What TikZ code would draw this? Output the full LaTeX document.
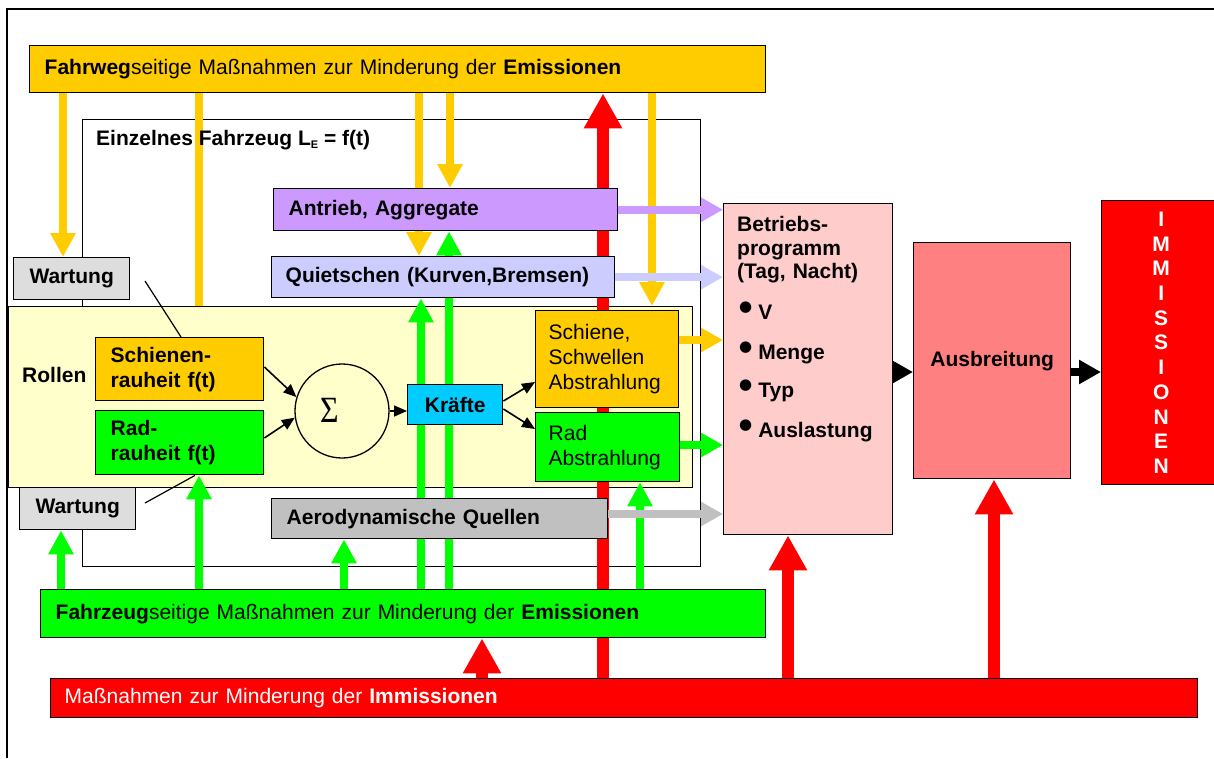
\documentclass[tikz,border=0pt]{standalone}
\usepackage{fontspec}
\setmainfont{Liberation Sans}
\newfontfamily\greekserif{Liberation Serif}
\newfontfamily\dvsans{DejaVu Sans}
\usetikzlibrary{arrows.meta}

\definecolor{gelb}{HTML}{FFCC00}
\definecolor{gruen}{HTML}{00FF00}
\definecolor{rot}{HTML}{FF0000}
\definecolor{hellgelb}{HTML}{FFFFCC}
\definecolor{lila}{HTML}{CC99FF}
\definecolor{hellblau}{HTML}{CCCCFF}
\definecolor{grau}{HTML}{C0C0C0}
\definecolor{hellgrau}{HTML}{DDDDDD}
\definecolor{tuerkis}{HTML}{00CCFF}
\definecolor{rosa}{HTML}{FFCCCC}
\definecolor{lachs}{HTML}{FF8080}

\pgfdeclarelayer{back}
\pgfdeclarelayer{flow}
\pgfsetlayers{back,flow,main}

% text sizes
\newcommand\txt{\fontsize{21}{25}\selectfont}
\newcommand\btxt{\fontsize{21}{25}\selectfont\bfseries}
% bullet used in the list of the Betriebsprogramm
\newcommand\punkt{\smash{\raisebox{8pt}{\dvsans\fontsize{15}{15}\selectfont ●}}\hspace{6pt}}

\begin{document}
\begin{tikzpicture}[x=1pt,y=-1pt,
  font=\txt,
  box/.style={draw=black, line width=1.4pt, rectangle, inner xsep=15pt, inner ysep=0pt,
              anchor=north west, align=left},
  label/.style={inner sep=0pt, anchor=base west, font=\btxt},
  item/.style={inner sep=0pt, anchor=base west, font=\btxt},
  vtip/.style={-{Triangle[length=24pt,width=24pt]}},
  htip/.style={-{Triangle[length=22pt,width=23pt]}},
  rtip/.style={-{Triangle[length=35pt,width=36pt]}},
  flowY/.style={draw=gelb, line width=8pt},
  flowG/.style={draw=gruen, line width=8pt},
  flowR/.style={draw=rot, line width=12pt, rtip},
  flowH/.style={line width=8pt, htip},
  thinarrow/.style={draw=black, line width=1.6pt, -{Triangle[length=13pt,width=11pt]}},
  thinline/.style={draw=black, line width=1.2pt}]

\useasboundingbox (0,0) rectangle (1214,758);

% page frame
\draw[line width=2pt] (7,758) -- (7,9) -- (1214,9);

% ---------- background: vehicle frame and rolling block
\begin{pgfonlayer}{back}
  \node[draw=black, line width=1.3pt, rectangle, inner sep=0pt, anchor=north west,
        minimum width=618pt, minimum height=447pt] (fzg) at (82,119) {};
  \node[box, fill=hellgelb, minimum width=684pt, minimum height=181pt] (rollen) at (8,306) {};
\end{pgfonlayer}

% ---------- boxes
\node[box, fill=gelb, minimum width=736pt, minimum height=47pt, text width=706pt] (fahrweg) at (29,45)
  {\textbf{Fahrweg}seitige Maßnahmen zur Minderung der \textbf{Emissionen}};

\node[label] (fzglabel) at (96,145.5)
  {Einzelnes Fahrzeug L\raisebox{-2.5pt}{\fontsize{11}{11}\selectfont E} = f(t)};

\node[box, fill=lila, minimum width=344pt, minimum height=42pt, text width=314pt, font=\btxt] (antrieb) at (273,188)
  {Antrieb, Aggregate};
\node[box, fill=hellblau, minimum width=343pt, minimum height=41pt, text width=315pt, inner xsep=14pt, font=\btxt] (quiet) at (271,256)
  {Quietschen (Kurven,Bremsen)};

\node[box, fill=hellgrau, minimum width=116pt, minimum height=42pt, align=center, font=\btxt] (wartungA) at (13,257) {Wartung};
\node[box, fill=hellgrau, minimum width=116pt, minimum height=42pt, align=center, font=\btxt] (wartungB) at (19,487) {Wartung};

\node[label] (rollenlabel) at (22,382.5) {Rollen};

\node[box, fill=gelb, minimum width=168pt, minimum height=63pt, text width=138pt, font=\btxt] (schienenR) at (95,337)
  {Schienen-\\rauheit f(t)};
\node[box, fill=gruen, minimum width=168pt, minimum height=64pt, text width=138pt, font=\btxt] (radR) at (95,410)
  {Rad-\\rauheit f(t)};

\node[circle, draw=black, line width=1.3pt, inner sep=0pt, minimum size=94pt] (sigma) at (342,411) {};
\node[inner sep=0pt] (sigmaglyph) at (329.5,410.5)
  {\greekserif\fontsize{37}{37}\selectfont\scalebox{0.86}[1]{Σ}};

\node[box, fill=tuerkis, minimum width=95pt, minimum height=40pt, align=center, inner xsep=4pt, font=\btxt] (kraefte) at (407,384) {Kräfte};

\node[box, fill=gelb, minimum width=143pt, minimum height=97pt, text width=117pt, inner xsep=13pt] (schiene) at (535,310)
  {Schiene,\\Schwellen\\Abstrahlung};
\node[box, fill=gruen, minimum width=144pt, minimum height=69pt, text width=118pt, inner xsep=13pt] (rad) at (535,412)
  {Rad\\Abstrahlung};

\node[box, fill=grau, minimum width=336pt, minimum height=40pt, text width=306pt, font=\btxt] (aero) at (271,498)
  {Aerodynamische Quellen};

\node[box, fill=rosa, minimum width=169pt, minimum height=331pt] (betriebs) at (723,203) {};
\node[label, text width=150pt, align=left, font=\fontsize{21}{23.5}\selectfont\bfseries] (bptext) at (737,231.5)
  {Betriebs-\\programm\\(Tag, Nacht)};
\node[item] (iv) at (739,319.5) {\punkt V};
\node[item] (imenge) at (739,359.5) {\punkt Menge};
\node[item] (ityp) at (739,397.5) {\punkt Typ};
\node[item] (iaus) at (739,437.5) {\punkt Auslastung};

\node[box, fill=lachs, minimum width=157pt, minimum height=236pt, align=center, font=\btxt] (ausb) at (913,242) {Ausbreitung};

\node[box, fill=rot, minimum width=119pt, minimum height=284pt, align=center, text=white,
      font=\fontsize{21}{24.7}\selectfont\bfseries] (imm) at (1101,200)
  {I\\M\\M\\I\\S\\S\\I\\O\\N\\E\\N};

\node[box, fill=gruen, minimum width=725pt, minimum height=48pt, text width=695pt] (fzbar) at (40,589)
  {\textbf{Fahrzeug}seitige Maßnahmen zur Minderung der \textbf{Emissionen}};
\node[box, fill=rot, minimum width=1147pt, minimum height=39pt, text width=1119pt, inner xsep=14pt, text=white] (imbar) at (50,678)
  {Maßnahmen zur Minderung der \textbf{Immissionen}};

% ---------- flows between the blocks
\begin{pgfonlayer}{flow}
  % track side measures
  \draw[flowY, vtip] (fahrweg.south -| 63,0)  -- (wartungA.north -| 63,0);
  \draw[flowY]       (fahrweg.south -| 199,0) -- (rollen.north -| 199,0);
  \draw[flowY, vtip] (fahrweg.south -| 419,0) -- (quiet.north -| 419,0);
  \draw[flowY, vtip] (fahrweg.south -| 450,0) -- (antrieb.north -| 450,0);
  \draw[flowY, vtip] (fahrweg.south -| 652,0) -- (rollen.north -| 652,0);
  % vehicle side measures
  \draw[flowG, vtip] (fzbar.north -| 61,0)  -- (wartungB.south -| 61,0);
  \draw[flowG, vtip] (fzbar.north -| 199,0) -- (radR.south -| 199,0);
  \draw[flowG, vtip] (fzbar.north -| 344,0) -- (aero.south -| 344,0);
  \draw[flowG, vtip] (fzbar.north -| 421,0) -- (quiet.south -| 421,0);
  \draw[flowG, vtip] (fzbar.north -| 449,0) -- (antrieb.south -| 449,0);
  \draw[flowG, vtip] (fzbar.north -| 640,0) -- (rad.south -| 640,0);
  % immission side measures
  \draw[flowR] (imbar.north -| 482,0) -- (fzbar.south -| 482,0);
  \draw[flowR] (imbar.north -| 603,0) -- (fahrweg.south -| 603,0);
  \draw[flowR] (imbar.north -| 788,0) -- (betriebs.south -| 788,0);
  \draw[flowR] (imbar.north -| 994,0) -- (ausb.south -| 994,0);
  % sources into the operating programme
  \draw[flowH, draw=lila]     (antrieb.east) -- (antrieb.east -| betriebs.west);
  \draw[flowH, draw=hellblau] (quiet.east)   -- (quiet.east -| betriebs.west);
  \draw[flowH, draw=gelb]     (schiene.east |- 0,340) -- (betriebs.west |- 0,340);
  \draw[flowH, draw=gruen]    (rad.east |- 0,445)     -- (betriebs.west |- 0,445);
  \draw[flowH, draw=grau]     (aero.east |- 0,514)    -- (betriebs.west |- 0,514);
  % propagation chain
  \draw[flowH, draw=black] (betriebs.east |- 0,372) -- (ausb.west |- 0,372);
  \draw[flowH, draw=black] (ausb.east |- 0,372)     -- (imm.west |- 0,372);
\end{pgfonlayer}

% ---------- rolling noise chain
\draw[thinarrow] (schienenR.east |- 0,367) -- (sigma.163);
\draw[thinarrow] (radR.east |- 0,438)      -- (sigma.188);
\draw[thinarrow] (sigma.east) -- (sigma.east -| kraefte.west);
\draw[thinarrow] (kraefte.east |- 0,401) -- (schiene.west |- 0,382);
\draw[thinarrow] (kraefte.east |- 0,409) -- (rad.west |- 0,429);

% maintenance acts on the roughness
\coordinate (wa) at (145,281);
\coordinate (wb) at (145,503);
\draw[thinline] (wa) -- (schienenR.north west -| 181,345);
\draw[thinline] (wb) -- (radR.south west -| 195,468);
\end{tikzpicture}
\end{document}
